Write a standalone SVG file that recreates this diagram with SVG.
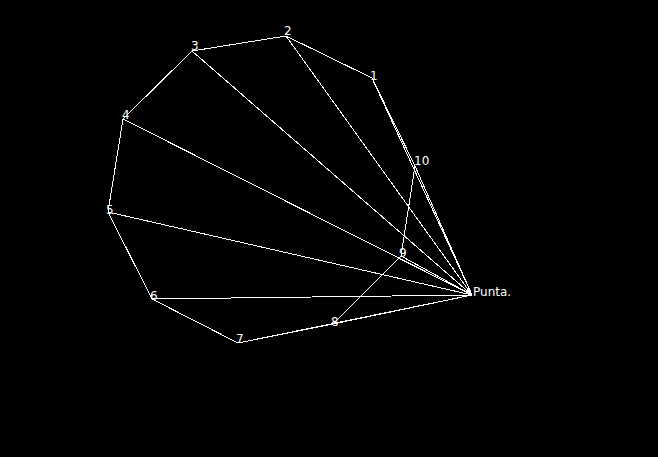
<svg xmlns="http://www.w3.org/2000/svg" width="658" height="457" viewBox="0 0 658 457">
<style>
.e{stroke:#fff;stroke-width:1;fill:none;shape-rendering:crispEdges}
.t{fill:#fff;font-family:"DejaVu Sans",sans-serif;font-size:12px}
</style>
<rect width="658" height="457" fill="#000"/>
<g id="connectors" class="e">
<polygon points="372,78 286,36 192,51 123,119 108,212 152,299 238,343 333,324 401,256 415,166"/>
<line x1="472" y1="295" x2="372" y2="78"/>
<line x1="472" y1="295" x2="286" y2="36"/>
<line x1="472" y1="295" x2="192" y2="51"/>
<line x1="472" y1="295" x2="123" y2="119"/>
<line x1="472" y1="295" x2="108" y2="212"/>
<line x1="472" y1="295" x2="152" y2="299"/>
<line x1="472" y1="295" x2="238" y2="343"/>
<line x1="472" y1="295" x2="333" y2="324"/>
<line x1="472" y1="295" x2="401" y2="256"/>
<line x1="472" y1="295" x2="415" y2="166"/>
</g>
<g id="n1"><text class="t" x="370" y="80">1</text></g>
<g id="n2"><text class="t" x="284" y="35">2</text></g>
<g id="n3"><text class="t" x="191" y="50">3</text></g>
<g id="n4"><text class="t" x="122" y="119">4</text></g>
<g id="n5"><text class="t" x="106" y="214">5</text></g>
<g id="n6"><text class="t" x="150" y="300">6</text></g>
<g id="n7"><text class="t" x="236" y="343">7</text></g>
<g id="n8"><text class="t" x="331" y="326">8</text></g>
<g id="n9"><text class="t" x="399" y="257">9</text></g>
<g id="n10"><text class="t" x="414" y="165">10</text></g>
<g id="punta"><text class="t" x="473" y="296">Punta.</text></g>
</svg>
